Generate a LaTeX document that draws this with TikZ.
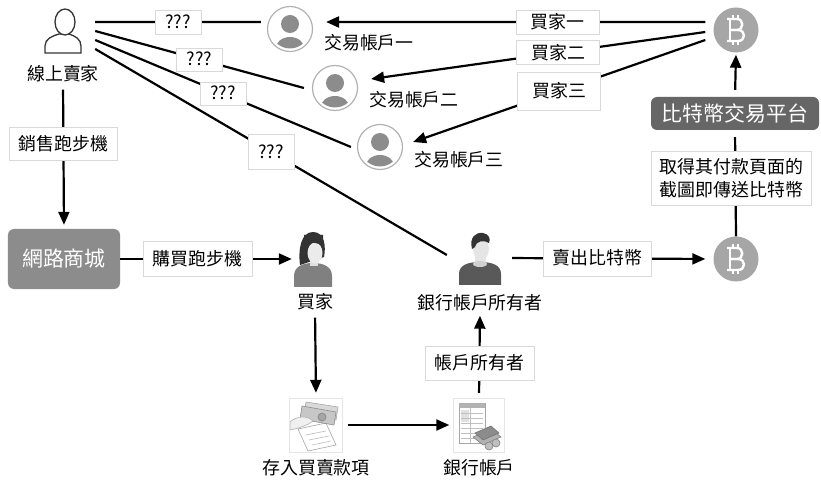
\documentclass[tikz,border=0pt]{standalone}
\usepackage{fontspec}
\setmainfont{Noto Sans CJK TC}
\usetikzlibrary{arrows.meta}

\tikzset{
  seller icon/.style={inner sep=0pt, minimum width=64bp, minimum height=46bp,
    path picture={
      \begin{scope}[shift={(path picture bounding box.center)}, fill=white, draw=black!80, line width=1.3bp]
        \filldraw (-18,22) -- (-18,15) .. controls (-18,8) and (-11,5) .. (-4,3)
          -- (6,3) .. controls (12,5) and (18,8) .. (18,15) -- (18,22) -- cycle;
        \filldraw (2,-9) ellipse (10bp and 13bp);
      \end{scope}}},
  account/.style={circle, draw=black!30, line width=1.2bp, fill=white, minimum size=45bp, inner sep=0pt,
    path picture={
      \begin{scope}[shift={(path picture bounding box.center)}]
        \clip (0,0) circle (19.5bp);
        \fill[black!45] (0,-5) circle (9bp);
        \fill[black!45] (0,21) ellipse (15bp and 13bp);
      \end{scope}}},
  coin/.style={circle, fill=black!35, minimum size=45bp, inner sep=0pt,
    path picture={
      \begin{scope}[shift={(path picture bounding box.center)}, white, line width=2.4bp]
        \draw (-6,-11) -- (-6,11);
        \draw[line join=round] (-9,-11) -- (1,-11) .. controls (8,-11) and (8,0) .. (1,0) -- (-6,0);
        \draw[line join=round] (-6,0) -- (2,0) .. controls (10,0) and (10,11) .. (2,11) -- (-9,11);
        \draw[line width=1.8bp] (-3,-15) -- (-3,-11) (2,-15) -- (2,-11);
        \draw[line width=1.8bp] (-3,15) -- (-3,11) (2,15) -- (2,11);
      \end{scope}}},
  woman/.style={inner sep=0pt, minimum width=42bp, minimum height=56bp,
    path picture={
      \begin{scope}[shift={(path picture bounding box.center)}]
        \fill[black!80] (-13,6) .. controls (-15,-10) and (-12,-27) .. (0,-27)
          .. controls (12,-27) and (13,-12) .. (11,-2) -- cycle;
        \fill[black!50] (-19,28) -- (-19,17) .. controls (-19,8) and (-11,4) .. (0,4)
          .. controls (11,4) and (19,8) .. (19,17) -- (19,28) -- cycle;
        \fill[black!12] (-3,0) rectangle (5,7);
        \fill[black!8] (2,-6) ellipse (7.5bp and 10.5bp);
        \fill[black!80] (-9,-12) .. controls (-2,-18) and (6,-17) .. (10,-12) -- (10,-24) -- (-9,-24) -- cycle;
      \end{scope}}},
  man/.style={inner sep=0pt, minimum width=44bp, minimum height=54bp,
    path picture={
      \begin{scope}[shift={(path picture bounding box.center)}]
        \fill[black!65] (-21,27) -- (-21,16) .. controls (-21,7) and (-12,4) .. (0,4)
          .. controls (12,4) and (21,7) .. (21,16) -- (21,27) -- cycle;
        \fill[black!10] (-5,-2) rectangle (6,6);
        \fill[black!18] (0,6) ellipse (7bp and 3bp);
        \fill[black!10] (1,-9) ellipse (8bp and 11bp);
        \fill[black!80] (-8,-9) .. controls (-11,-21) and (-4,-26) .. (3,-25)
          .. controls (9,-24) and (11,-19) .. (9,-15) .. controls (4,-18) and (-3,-18) .. (-5,-11) -- cycle;
      \end{scope}}},
  cash/.style={draw=black!10, inner sep=0pt, minimum width=53bp, minimum height=54bp,
    path picture={
      \begin{scope}[shift={(path picture bounding box.center)}, line width=.6bp]
        \filldraw[fill=white, draw=black!35] (-18,4) -- (10,-2) -- (20,20) -- (-8,26) -- cycle;
        \draw[black!25] (-10,10) -- (10,6) (-7,15) -- (13,11) (-4,20) -- (15,16);
        \filldraw[fill=black!15, draw=black!35] (-10,-23) -- (22,-18) -- (20,-5) -- (-12,-10) -- cycle;
        \filldraw[fill=black!22, draw=black!45] (-14,-19) -- (20,-13) -- (18,0) -- (-16,-6) -- cycle;
        \filldraw[fill=black!35, draw=black!50] (6,-8) circle (4bp);
        \filldraw[fill=black!6, draw=black!30] (-26,-3) .. controls (-18,-10) and (-8,-9) .. (-3,-4)
          .. controls (-8,0) and (-16,3) .. (-26,5) -- cycle;
      \end{scope}}},
  bank/.style={draw=black!10, inner sep=0pt, minimum width=51bp, minimum height=54bp,
    path picture={
      \begin{scope}[shift={(path picture bounding box.center)}, line width=.6bp]
        \filldraw[fill=white, draw=black!35] (-20,-22) rectangle (6,18);
        \fill[black!30] (-20,-22) rectangle (6,-17);
        \fill[black!12] (-18,-15) rectangle (-10,-3);
        \foreach \r in {-12,-7,...,13}
          \draw[black!25] (-18,\r) -- (4,\r);
        \draw[black!25] (-9,-17) -- (-9,18);
        \filldraw[fill=black!30, draw=black!50] (-6,12) -- (12,4) -- (22,12) -- (4,20) -- cycle;
        \filldraw[fill=black!45, draw=black!55] (-4,8) -- (12,1) -- (20,8) -- (4,15) -- cycle;
        \filldraw[fill=black!25, draw=black!50] (10,21) circle (4bp) (17,18) circle (4bp);
      \end{scope}}}
}

\begin{document}
\begin{tikzpicture}[x=1bp, y=-1bp,
    wire/.style={line width=2.2bp},
    arr/.style={wire, -{Triangle[length=13bp,width=11bp]}},
    txt/.style={font=\fontsize{18}{22}\selectfont, inner sep=0pt, text height=15bp, text depth=2bp},
    lbl/.style={txt, fill=white, draw=black!15, line width=.8bp},
    box/.style={rounded corners=6bp, text=white, font=\fontsize{21}{24}\selectfont, inner sep=0pt}]

  \fill[white] (0,0) rectangle (821,482);
  \useasboundingbox (0,0) rectangle (821,482);

  \node[seller icon] (seller) at (63,31) {};
  \node[txt] (sellerT) at (63,74) {線上賣家};
  \node[box, fill=black!45, minimum width=112bp, minimum height=60bp] (shop) at (64,259) {網路商城};
  \node[woman] (buyer) at (313,259) {};
  \node[txt] (buyerT) at (315,302) {買家};
  \node[cash] (cash) at (316,425) {};
  \node[txt] (cashT) at (316,468) {存入買賣款項};
  \node[bank] (bank) at (479,425) {};
  \node[txt] (bankT) at (479,468) {銀行帳戶};
  \node[man] (owner) at (480,258) {};
  \node[txt] (ownerT) at (480,303) {銀行帳戶所有者};
  \node[coin] (btcB) at (736,259) {};
  \node[box, fill=black!60, minimum width=168bp, minimum height=33bp] (platform) at (735,113.5) {比特幣交易平台};
  \node[coin] (btcA) at (736,30) {};

  \node[account] (acct1) at (290,29) {};
  \node[txt] (acct1T) at (369,43) {交易帳戶一};
  \node[account] (acct2) at (335,88) {};
  \node[txt] (acct2T) at (414,100) {交易帳戶二};
  \node[account] (acct3) at (380,147) {};
  \node[txt] (acct3T) at (459,160) {交易帳戶三};

  \draw[arr, shorten <=7bp, shorten >=4bp] (sellerT.south) --
    node[lbl, pos=.42, minimum width=108bp, minimum height=33bp] {銷售跑步機} (shop.north);
  \draw[arr] (shop.east) --
    node[lbl, pos=.45, minimum width=109bp, minimum height=35bp] {購買跑步機} (buyer.west);
  \draw[arr, shorten <=7bp, shorten >=5bp] (buyerT.south) -- (cash.north);
  \draw[arr, shorten <=5bp, shorten >=4bp] (cash.east) -- (bank.west);
  \draw[arr, shorten <=5bp, shorten >=4bp] (bank.north) --
    node[lbl, pos=.4, minimum width=109bp, minimum height=34bp] {帳戶所有者} (ownerT.south);
  \draw[arr, shorten <=10bp, shorten >=8bp] (owner.east) --
    node[lbl, pos=.45, minimum width=108bp, minimum height=35bp] {賣出比特幣} (btcB.west);
  \draw[wire, shorten >=7bp] (btcB.north) --
    node[fill=white, draw=black!15, line width=.8bp, font=\fontsize{18}{23}\selectfont, align=center,
      inner sep=0pt, minimum width=160bp, minimum height=54bp, xshift=-4bp, pos=.55]
      {取得其付款頁面的\\截圖即傳送比特幣} (platform.south);
  \draw[arr, shorten <=7bp, shorten >=2bp] (platform.north) -- (btcA.south);

  \draw[arr] ([xshift=-8bp,yshift=8bp]btcA.west) --
    node[lbl, pos=.39, minimum width=83bp, minimum height=24bp] {買家一} ([xshift=13bp,yshift=7bp]acct1.east);
  \draw[arr] ([xshift=-8bp,yshift=-2bp]btcA.west) --
    node[lbl, pos=.44, minimum width=83bp, minimum height=24bp] {買家二} ([xshift=13bp,yshift=9bp]acct2.east);
  \draw[arr] ([xshift=-8bp,yshift=-10bp]btcA.west) --
    node[lbl, pos=.5, minimum width=83bp, minimum height=38bp] {買家三} ([xshift=10bp,yshift=5bp]acct3.east);

  \draw[wire] ([yshift=9bp]seller.east) --
    node[lbl, pos=.5, minimum width=46bp, minimum height=24bp] {???} ([xshift=-6bp,yshift=7bp]acct1.west);
  \draw[wire] (seller.east) --
    node[lbl, pos=.5, minimum width=46bp, minimum height=23bp] {???} ([xshift=-8bp]acct2.west);
  \draw[wire] ([yshift=-9bp]seller.east) --
    node[lbl, pos=.5, minimum width=46bp, minimum height=23bp] {???} ([xshift=-6bp]acct3.west);
  \draw[wire] ([yshift=-18bp]seller.east) --
    node[lbl, pos=.5, minimum width=46bp, minimum height=35bp] {???} ([xshift=-11bp,yshift=3bp]owner.west);
\end{tikzpicture}
\end{document}
